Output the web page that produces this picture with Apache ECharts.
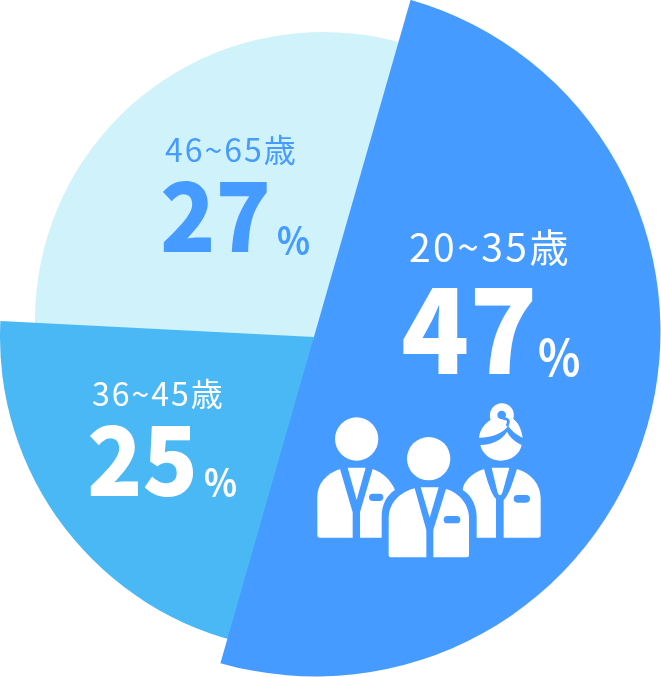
<!DOCTYPE html>
<html><head><meta charset="utf-8">
<style>html,body{margin:0;padding:0;background:#fff}#c{width:661px;height:677px}</style>
<script src="https://cdn.jsdelivr.net/npm/echarts@6/dist/echarts.min.js"></script>
</head><body><div id="c"></div>
<script>
const ageLabels = ['20~35歳', '36~45歳', '46~65歳'];
const shares = [47, 25, 27];
const BLUE = '#459BFF', MID = '#4AB8F4', LIGHT = '#D0F3FB';
const FONT = '"Noto Sans CJK JP","Noto Sans",sans-serif';
const spaced = s => s.split('').join('\u200A');

function slice(i, color, center, radius, start, end, z) {
  return { type:'pie', silent:true, animation:false, center, radius, startAngle:start, endAngle:end, z,
    label:{show:false}, labelLine:{show:false}, emphasis:{disabled:true},
    itemStyle:{color},
    data:[{name:ageLabels[i], value:shares[i]}] };
}
// y is the text baseline
function txt(s, x, y, size, weight, fill, sx) {
  return { type:'text', x, y:y-0.9*size, scaleX:sx||1, z:20, silent:true,
    style:{ text:s, font:`${weight} ${size}px ${FONT}`, fill, align:'left', verticalAlign:'top' } };
}
function p(d, fill){ return {type:'path', shape:{pathData:d}, style:{fill:fill||'#fff'}}; }
function ln(d, w){ return {type:'path', shape:{pathData:d}, style:{fill:'none', stroke:BLUE, lineWidth:w, lineCap:'round'}}; }
function c(cx,cy,r,fill){ return {type:'circle', shape:{cx,cy,r}, style:{fill:fill||'#fff'}}; }
function badge(x,y,w,h){ return {type:'rect', shape:{x,y,width:w,height:h,r:h/2}, style:{fill:BLUE}}; }

const iconParts = [
  // left person
  c(170,132,65),
  p('M120,222 C80,235 52,265 52,305 L52,420 Q52,428 60,428 L158,428 L158,352 Z'),
  p('M143,218 L197,218 L170,315 Z'),
  p('M180,428 L180,352 L218,222 C248,232 272,255 285,285 C260,300 245,330 245,365 L245,428 Z'),
  badge(207,296,43,22),
  // middle person
  c(386,191,65),
  p('M344,280 C298,292 266,325 266,370 L266,480 Q266,487 274,487 L379,487 L379,405 Z'),
  p('M362,277 L416,277 L389,368 Z'),
  p('M400,487 L400,405 L438,282 C480,294 507,330 507,370 L507,480 Q507,487 500,487 Z'),
  badge(431,363,50,22),
  // right person
  p('M537,128 C540,103 555,85 572,75 C563,45 585,25 605,25 C628,25 648,45 640,72 C655,82 665,105 668,128 C650,120 632,105 625,92 C610,112 580,128 537,128 Z'),
  ln('M612,71 C622,71 630,76 622,90',8),
  c(605,60,13,BLUE),
  p('M541,150 C580,148 605,135 621,110 C630,128 648,142 665,150 C660,178 632,197 603,197 C570,197 546,175 541,150 Z'),
  p('M552,222 C512,235 490,262 488,285 C515,300 530,335 530,365 L530,428 L588,428 L588,312 C572,295 560,250 552,222 Z'),
  p('M575,218 L628,218 L607,293 Q600,308 593,293 Z'),
  p('M651,222 C695,235 722,270 722,310 L722,420 Q722,428 714,428 L611,428 L611,315 C628,300 640,255 651,222 Z'),
  badge(641,300,49,23)
];

const chart = echarts.init(document.getElementById('c'), null, {width:661, height:677, renderer:'canvas'});
chart.setOption({
  animation:false,
  series:[
    slice(2, LIGHT, [323,320], 288, -110, -290, 1),
    slice(1, MID, [314,337], 314, -102, -182.9, 2),
    slice(0, BLUE, [315.5,331.5], 345, 74, -106, 3),
    { type:'custom', coordinateSystem:'none', silent:true, z:10, animation:false, data:[0],
      renderItem:()=>({ type:'group', x:300, y:395, scaleX:1/3, scaleY:1/3, children:iconParts }) }
  ],
  graphic:{elements:[
    txt(spaced(ageLabels[0]), 409, 263, 39, 400, '#fff'),
    txt(String(shares[0]), 401, 376, 118, 900, '#fff', 0.95),
    txt('%', 538, 377, 50, 700, '#fff', 0.88),
    txt(spaced(ageLabels[1]), 92, 407, 32, 400, '#fff'),
    txt(String(shares[1]), 87, 498, 96, 900, '#fff', 0.95),
    txt('%', 204, 498, 39, 700, '#fff', 0.88),
    txt(spaced(ageLabels[2]), 165, 163, 32, 400, BLUE),
    txt(String(shares[2]), 160, 254, 96, 900, BLUE, 0.95),
    txt('%', 277, 256, 39, 700, BLUE, 0.88)
  ]}
});
</script></body></html>
